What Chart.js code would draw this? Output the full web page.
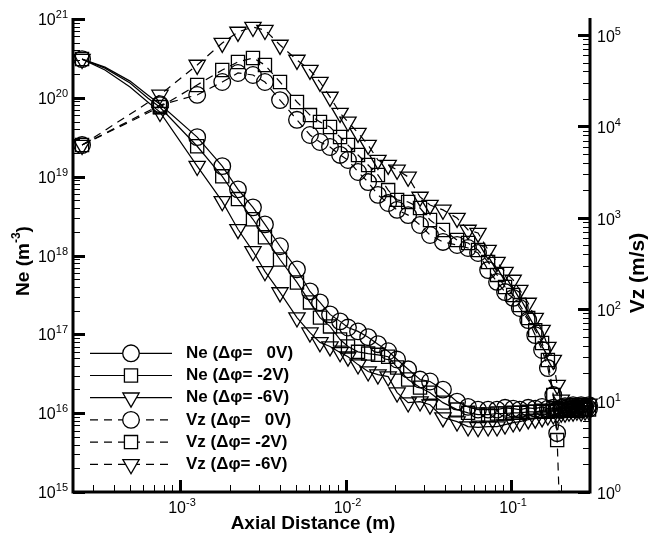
<!DOCTYPE html>
<html>
<head>
<meta charset="utf-8">
<script src="https://cdn.jsdelivr.net/npm/chart.js@4.4.0/dist/chart.umd.min.js"></script>
<style>
  html, body { margin: 0; padding: 0; background: #fff; }
  #wrap { width: 649px; height: 537px; }
</style>
</head>
<body>
<div id="wrap"><canvas id="chart" width="649" height="537"></canvas></div>
<script>
// axial positions (m), shared by all six curves
const axialDist = [2.56e-4, 3.52e-4, 4.99e-4, 6.41e-4, 7.57e-4, 1.27e-3, 1.80e-3, 2.24e-3, 2.76e-3, 3.26e-3,
    4.02e-3, 5.09e-3, 6.10e-3, 7.01e-3, 8.06e-3, 9.27e-3, 1.035e-2, 1.19e-2, 1.37e-2, 1.57e-2,
    1.81e-2, 2.05e-2, 2.39e-2, 2.82e-2, 3.24e-2, 3.88e-2, 4.72e-2, 5.50e-2, 6.32e-2, 7.27e-2,
    8.23e-2, 9.20e-2, 0.103, 0.113, 0.127, 0.140, 0.154, 0.167, 0.180, 0.190,
    0.201, 0.212, 0.224, 0.237, 0.250, 0.265, 0.280, 0.296];

// electron density (m^-3)
const neV0 = [3.10e20, 2.45e20, 1.63e20, 1.08e20, 8.3e19, 3.17e19, 1.36e19, 6.9e18, 4.08e18, 2.48e18,
    1.31e18, 6.66e17, 3.50e17, 2.54e17, 1.79e17, 1.46e17, 1.22e17, 1.09e17, 9.2e16, 7.5e16,
    6.1e16, 4.79e16, 3.6e16, 2.67e16, 2.52e16, 1.99e16, 1.40e16, 1.20e16, 1.11e16, 1.11e16,
    1.11e16, 1.17e16, 1.14e16, 1.11e16, 1.17e16, 1.14e16, 1.20e16, 1.14e16, 1.17e16, 1.11e16,
    1.17e16, 1.14e16, 1.20e16, 1.14e16, 1.17e16, 1.11e16, 1.17e16, 1.14e16];
const neV2 = [3.10e20, 2.38e20, 1.54e20, 9.9e19, 7.6e19, 2.43e19, 1.01e19, 5.2e18, 2.88e18, 1.70e18,
    8.9e17, 4.55e17, 2.54e17, 1.63e17, 1.26e17, 8.6e16, 7.0e16, 6.0e16, 5.7e16, 5.5e16,
    5.2e16, 3.8e16, 2.67e16, 2.11e16, 1.82e16, 1.36e16, 1.11e16, 1.01e16, 9.6e15, 9.6e15,
    9.9e15, 9.9e15, 1.01e16, 1.01e16, 1.04e16, 1.04e16, 1.07e16, 1.04e16, 1.07e16, 1.07e16,
    1.11e16, 1.07e16, 1.11e16, 1.11e16, 1.07e16, 1.11e16, 1.11e16, 1.11e16];
const neV6 = [3.10e20, 2.25e20, 1.37e20, 8.8e19, 6.6e19, 1.36e19, 4.86e18, 2.15e18, 1.13e18, 6.3e17,
    3.40e17, 1.63e17, 1.05e17, 7.9e16, 7.0e16, 5.9e16, 5.2e16, 4.13e16, 3.37e16, 3.08e16,
    2.91e16, 1.82e16, 1.36e16, 1.40e16, 1.28e16, 8.8e15, 7.8e15, 6.75e15, 6.6e15, 6.75e15,
    6.75e15, 7.15e15, 7.6e15, 7.8e15, 8.3e15, 8.5e15, 8.8e15, 9.3e15, 9.6e15, 9.9e15,
    1.01e16, 1.01e16, 1.04e16, 1.04e16, 1.07e16, 1.04e16, 1.07e16, 1.07e16];

// axial velocity (m/s)
const vzV0 = [6250, null, null, null, 1.71e4, 2.21e4, 3.06e4, 3.84e4, 3.65e4, 3.06e4,
    1.94e4, 1.18e4, 8050, 6750, 5950, 4870, 4290, 3170, 2460, 1780,
    1450, 1220, 1070, 834, 648, 544, 504, 467, 412, 268,
    199, 154, 133, 103, 76, 52, 35.8, 22.7, 11.5, 4.4,
    7.9, 8.7, 8.1, 8.9, 8.3, 8.9, 8.5, 8.9];
const vzV2 = [6250, null, null, null, 1.63e4, 2.84e4, 4.14e4, 5.07e4, 5.60e4, 4.70e4,
    3.06e4, 1.85e4, 1.33e4, 1.12e4, 9850, 7650, 6250, 4870, 3780, 2940,
    2010, 1570, 1490, 1280, 946, 736, 571, 530, 444, 328,
    237, 175, 143, 111, 80, 59, 42.7, 27.8, 11.5, 3.7,
    0.2, null, null, null, null, null, null, null];
const vzV6 = [6250, null, null, null, 2.21e4, 4.70e4, 8.17e4, 1.08e5, 1.22e5, 1.13e5,
    7.78e4, 5.33e4, 4.14e4, 3.06e4, 2.10e4, 1.40e4, 1.12e4, 8470, 6250, 4290,
    3780, 3340, 2800, 1690, 1380, 1220, 995, 736, 682, 444,
    328, 255, 209, 162, 117, 80, 59, 38.6, 27.8, 14.8,
    10.2, 8.3, 9.2, 8.7, 9.4, 8.9, 9.4, 9.2];

// points of the Ne curves that carry no symbol
const bendIdx = [1, 2, 3];

const xPowers = [-3, -2, -1];
const nePowers = [15, 16, 17, 18, 19, 20, 21];
const vzPowers = [0, 1, 2, 3, 4, 5];

const legendLabels = ['Ne (\u0394\u03c6=   0V)', 'Ne (\u0394\u03c6= -2V)', 'Ne (\u0394\u03c6= -6V)',
    'Vz (\u0394\u03c6=   0V)', 'Vz (\u0394\u03c6= -2V)', 'Vz (\u0394\u03c6= -6V)'];

const FONT = '"Liberation Sans", Arial, Helvetica, sans-serif';
const radiusFor = { circle: 8.3, rect: 9.3, triangle: 9.4 };

function series(label, ys, axis, style, dashed) {
    return {
        label: label,
        data: axialDist.map((x, i) => ({ x: x, y: ys[i] })),
        yAxisID: axis,
        showLine: true,
        spanGaps: true,
        borderColor: '#000',
        borderWidth: 1.2,
        borderDash: dashed ? [8, 6] : [],
        pointStyle: style,
        rotation: style === 'triangle' ? 180 : 0,
        pointRadius: c => (bendIdx.includes(c.dataIndex) ? 0 : radiusFor[style]),
        pointBorderWidth: 1.3,
        pointBorderColor: '#000',
        pointBackgroundColor: 'rgba(0,0,0,0)',
        clip: { left: 12, right: 12, top: 12, bottom: 0 }
    };
}

const sets = [
    series(legendLabels[0], neV0, 'yNe', 'circle', false),
    series(legendLabels[1], neV2, 'yNe', 'rect', false),
    series(legendLabels[2], neV6, 'yNe', 'triangle', false),
    series(legendLabels[3], vzV0, 'yVz', 'circle', true),
    series(legendLabels[4], vzV2, 'yVz', 'rect', true),
    series(legendLabels[5], vzV6, 'yVz', 'triangle', true)
];

function decadeTicks(min, max) {
    const out = [];
    for (let n = Math.floor(Math.log10(min)); n <= Math.ceil(Math.log10(max)); n++) {
        for (let k = 1; k <= 9; k++) {
            const v = k * Math.pow(10, n);
            if (v >= min * 0.999 && v <= max * 1.001) out.push({ v: v, major: k === 1 });
        }
    }
    return out;
}

function powLabel(ctx, p, x, y, align) {
    const base = '10', sup = String(p);
    ctx.font = '16px ' + FONT;
    const wb = ctx.measureText(base).width;
    ctx.font = '11px ' + FONT;
    const ws = ctx.measureText(sup).width;
    let x0 = x;
    if (align === 'right') x0 = x - wb - ws;
    if (align === 'center') x0 = x - (wb + ws) / 2;
    ctx.textAlign = 'left';
    ctx.textBaseline = 'alphabetic';
    ctx.font = '16px ' + FONT;
    ctx.fillText(base, x0, y);
    ctx.font = '11px ' + FONT;
    ctx.fillText(sup, x0 + wb, y - 7);
}

// title with a raised part: parts = [[text, isSup], ...], centred on 0,0
function supTitle(ctx, parts, size) {
    let w = 0;
    parts.forEach(p => {
        ctx.font = 'bold ' + (p[1] ? Math.round(size * 0.65) : size) + 'px ' + FONT;
        w += ctx.measureText(p[0]).width;
    });
    let x = -w / 2;
    ctx.textAlign = 'left';
    ctx.textBaseline = 'middle';
    parts.forEach(p => {
        ctx.font = 'bold ' + (p[1] ? Math.round(size * 0.65) : size) + 'px ' + FONT;
        ctx.fillText(p[0], x, p[1] ? -size * 0.4 : 0);
        x += ctx.measureText(p[0]).width;
    });
}

const frame = {
    id: 'frame',
    beforeDatasetsDraw(chart) {
        const ctx = chart.ctx;
        const a = chart.chartArea;
        const sx = chart.scales.x, sl = chart.scales.yNe, sr = chart.scales.yVz;
        ctx.save();
        ctx.strokeStyle = '#000';
        ctx.fillStyle = '#000';
        ctx.lineCap = 'butt';

        const tick = (x1, y1, x2, y2, w) => {
            ctx.lineWidth = w;
            ctx.beginPath();
            ctx.moveTo(x1, y1);
            ctx.lineTo(x2, y2);
            ctx.stroke();
        };
        decadeTicks(sx.min, sx.max).forEach(t => {
            const px = Math.round(sx.getPixelForValue(t.v)) + 0.5;
            tick(px, a.bottom, px, a.bottom - (t.major ? 12 : 7), t.major ? 3 : 1);
        });
        decadeTicks(sl.min, sl.max).forEach(t => {
            const py = Math.round(sl.getPixelForValue(t.v)) + 0.5;
            tick(a.left, py, a.left + (t.major ? 12 : 7), py, t.major ? 3 : 1);
        });
        decadeTicks(sr.min, sr.max).forEach(t => {
            const py = Math.round(sr.getPixelForValue(t.v)) + 0.5;
            tick(a.right, py, a.right - (t.major ? 12 : 7), py, t.major ? 3 : 1);
        });

        ctx.lineWidth = 3;
        ctx.beginPath();
        ctx.moveTo(a.left, a.top - 1);
        ctx.lineTo(a.left, a.bottom);
        ctx.lineTo(a.right, a.bottom);
        ctx.lineTo(a.right, a.top - 1);
        ctx.stroke();

        xPowers.forEach(p => powLabel(ctx, p, sx.getPixelForValue(Math.pow(10, p)) + 2, a.bottom + 21, 'center'));
        nePowers.forEach(p => powLabel(ctx, p, a.left - 5, sl.getPixelForValue(Math.pow(10, p)) + 6, 'right'));
        vzPowers.forEach(p => powLabel(ctx, p, a.right + 7, sr.getPixelForValue(Math.pow(10, p)) + 7, 'left'));

        ctx.font = 'bold 19px ' + FONT;
        ctx.textAlign = 'center';
        ctx.textBaseline = 'middle';
        ctx.fillText('Axial Distance (m)', 313, 524);

        ctx.save();
        ctx.translate(24, 261);
        ctx.rotate(-Math.PI / 2);
        supTitle(ctx, [['Ne (m', false], ['-3', true], [')', false]], 19);
        ctx.restore();

        ctx.save();
        ctx.translate(638, 273);
        ctx.rotate(-Math.PI / 2);
        supTitle(ctx, [['Vz (m/s)', false]], 21);
        ctx.restore();
        ctx.restore();
    },
    afterDatasetsDraw(chart) {
        const ctx = chart.ctx;
        ctx.save();
        chart.data.datasets.forEach((ds, i) => {
            const y = 353.3 + i * 22.2;
            ctx.strokeStyle = '#000';
            ctx.lineWidth = 1.2;
            ctx.setLineDash(ds.borderDash);
            ctx.beginPath();
            ctx.moveTo(90, y);
            ctx.lineTo(172, y);
            ctx.stroke();
            ctx.setLineDash([]);
            ctx.fillStyle = '#fff';
            ctx.lineWidth = 1.3;
            Chart.helpers.drawPoint(ctx, {
                pointStyle: ds.pointStyle,
                radius: radiusFor[ds.pointStyle],
                rotation: ds.rotation,
                borderWidth: 1.3
            }, 131, y);
            ctx.fillStyle = '#000';
            ctx.font = 'bold 17px ' + FONT;
            ctx.textAlign = 'left';
            ctx.textBaseline = 'middle';
            ctx.fillText(ds.label, 186, y);
        });
        ctx.restore();
    }
};

new Chart(document.getElementById('chart'), {
    type: 'scatter',
    data: { datasets: sets },
    options: {
        responsive: false,
        animation: false,
        layout: { padding: { left: 73, top: 19, right: 59, bottom: 45 } },
        plugins: { legend: { display: false }, tooltip: { enabled: false } },
        scales: {
            x: { type: 'logarithmic', min: 2.257e-4, max: 0.300, display: false },
            yNe: { type: 'logarithmic', position: 'left', min: 1e15, max: 1e21, display: false },
            yVz: { type: 'logarithmic', position: 'right', min: 1, max: 1.496e5, display: false }
        }
    },
    plugins: [frame]
});
</script>
</body>
</html>
